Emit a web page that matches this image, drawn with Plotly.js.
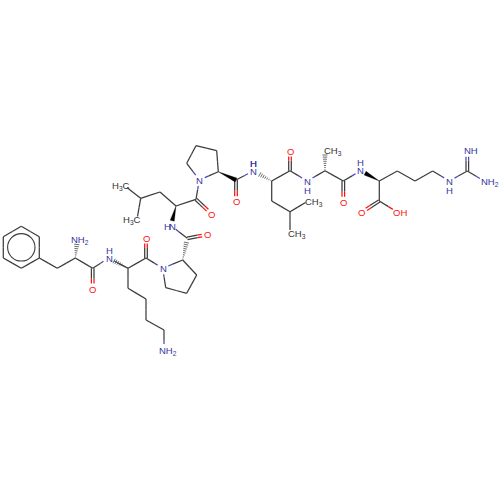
<!DOCTYPE html>
<html><head><meta charset="utf-8">
<script src="https://cdn.plot.ly/plotly-3.0.1.min.js"></script>
<style>html,body{margin:0;padding:0;background:#fff}</style></head>
<body><div id="chart" style="width:500px;height:500px"></div>
<script>
// atoms: name, x, y, element
const atomNames=["r1","r2","r3","r4","r5","r6","cb1","ca1","n1","c1","o1","n2","ca2","c2","o2","cb2","cg2","cd2","ce2","nz2",
"n3","ca3","cb3","cg3","cd3","c3","o3","n4","ca4","c4","o4","cb4","cg4","m41","m42",
"n5","cd5","cg5","cb5","ca5","c5","o5","n6","ca6","c6","o6","cb6","cg6","m61","m62",
"n7","ca7","m7","c7","o7","n8","ca8","c8","o8","oh8","cb8","cg8","cd8","ne8","cz8","nh8","nh28"];
const atomX=[21.3,39.3,39.3,21.3,3.3,3.3,57.3,75.3,77.5,92.7,92.7,108.5,128,146,146,128,146,146,164,164,
162.7,182.7,196.7,186.7,165.7,187.3,207.5,171,176,196,211.5,160,140.7,127,137.5,
199.3,186.7,196,216.7,218.3,236,236,253.3,271.7,290,290,271.7,290,305.5,290,
307.3,325,325,343.3,343.3,360.7,379.3,379.3,361.7,397.5,397.3,415,432.7,449.3,467.3,467.3,485];
const atomY=[226.3,236.7,258,268.3,258,236.7,268.3,258,238.5,268.3,289,258,268.3,258,238,288.3,299,320,330,350,
268.3,260,275,293.3,287.7,238.3,234.5,225.5,206,199.3,214,192,198.3,187.5,216.5,
180,163.3,145.7,150.7,171.7,180,201.7,171,181,170.7,151,201,211.7,202.5,230,
181,170.7,150.5,181,202.3,170.7,181,201,212.3,212.3,171,181,171,181,171,150.7,181.5];
const atomElement=["C","C","C","C","C","C","C","C","N","C","O","N","C","C","O","C","C","C","C","N",
"N","C","C","C","C","C","O","N","C","C","O","C","C","C","C",
"N","C","C","C","C","C","O","N","C","C","O","C","C","C","C",
"N","C","C","C","O","N","C","C","O","O","C","C","C","N","C","N","N"];
// bonds
const singleBonds=[["r1","r2"],["r2","r3"],["r3","r4"],["r4","r5"],["r5","r6"],["r6","r1"],["r3","cb1"],["cb1","ca1"],["ca1","c1"],["c1","n2"],
["n2","ca2"],["ca2","c2"],["c2","n3"],["ca2","cb2"],["cb2","cg2"],["cg2","cd2"],["cd2","ce2"],["ce2","nz2"],
["n3","ca3"],["ca3","cb3"],["cb3","cg3"],["cg3","cd3"],["cd3","n3"],["c3","n4"],["ca4","c4"],["c4","n5"],["ca4","cb4"],["cb4","cg4"],["cg4","m41"],["cg4","m42"],
["n5","cd5"],["cd5","cg5"],["cg5","cb5"],["cb5","ca5"],["ca5","n5"],["c5","n6"],["ca6","c6"],["ca6","cb6"],["cb6","cg6"],["cg6","m61"],["cg6","m62"],
["c6","n7"],["n7","ca7"],["ca7","c7"],["c7","n8"],["ca8","c8"],["c8","oh8"],["ca8","cb8"],["cb8","cg8"],["cg8","cd8"],["cd8","ne8"],["ne8","cz8"],["cz8","nh28"]];
const doubleBonds=[["c1","o1"],["c2","o2"],["c3","o3"],["c4","o4"],["c5","o5"],["c6","o6"],["c7","o7"],["c8","o8"],["cz8","nh8"]];
const hashBonds=[["ca1","n1"],["ca2","n2"],["ca3","c3"],["ca6","n6"],["ca7","m7"]];
const boldBonds=[["ca4","n4"],["ca5","c5"],["ca8","n8"]];
// labels: text, x, y, colour key
const labelText=["NH<sub>2</sub>","O","H","N","O","N","O","H","N","O","N","H","O","H","N","N","H","O","CH<sub>3</sub>","H","N","O","O","OH","N","H","NH","NH<sub>2</sub>","NH<sub>2</sub>",
"H<sub>3</sub>C","H<sub>3</sub>C","CH<sub>3</sub>","CH<sub>3</sub>"];
const labelX=[80,92.7,109.5,109.5,146,163,207.5,167,172,211.5,199.3,253.3,236,253.3,253.3,307.3,307.3,290,333,360.7,360.7,343.3,361.7,400,449.3,449.3,471,490,168,
120.5,132,314,296.5];
const labelY=[239.5,289,250,258,238,268.5,234.5,226.5,226.5,214,180,163.5,201.7,163.5,171,181,190,151,151,162.7,170.7,202.3,212.3,212.3,181,190,150.7,182,351,
186,219.5,202,233.5];
const labelColor=["N","O","N","N","O","N","O","N","N","O","N","N","O","N","N","N","N","O","C","N","N","O","O","O","N","N","N","N","N",
"C","C","C","C"];
const palette={C:"#333333",N:"#33339f",O:"#ff1010"};
const bondPalette={C:"#3c3c3c",N:"#4a4ab0",O:"#ff1010"};

const idx={};atomNames.forEach((n,i)=>idx[n]=i);
const P=n=>[atomX[idx[n]],atomY[idx[n]]];
const E=n=>atomElement[idx[n]];
const gap={C:0,N:6,O:5.5};
const segs={C:{x:[],y:[]},N:{x:[],y:[]},O:{x:[],y:[]}};
function addSeg(col,a,b){segs[col].x.push(a[0],b[0],null);segs[col].y.push(a[1],b[1],null);}
function bond(a,b,ea,eb,off){
  const dx=b[0]-a[0],dy=b[1]-a[1],L=Math.hypot(dx,dy),ux=dx/L,uy=dy/L;
  const nx=-uy*(off||0),ny=ux*(off||0);
  const s=[a[0]+ux*gap[ea]+nx,a[1]+uy*gap[ea]+ny],e=[b[0]-ux*gap[eb]+nx,b[1]-uy*gap[eb]+ny];
  const m=[(a[0]+b[0])/2+nx,(a[1]+b[1])/2+ny];
  addSeg(ea,s,m);addSeg(eb,m,e);
}
singleBonds.forEach(([p,q])=>bond(P(p),P(q),E(p),E(q),0));
doubleBonds.forEach(([p,q])=>{bond(P(p),P(q),E(p),E(q),1.3);bond(P(p),P(q),E(p),E(q),-1.3);});
const traces=Object.keys(segs).map(k=>({type:"scatter",mode:"lines",x:segs[k].x,y:segs[k].y,
  line:{color:bondPalette[k],width:1.25},hoverinfo:"skip",showlegend:false}));
// wedges
boldBonds.forEach(([p,q])=>{
  const a=P(p),b=P(q),dx=b[0]-a[0],dy=b[1]-a[1],L=Math.hypot(dx,dy),ux=dx/L,uy=dy/L,w=2.1;
  const t=gap[E(q)]>0?(L-gap[E(q)]+1)/L:1;
  const ex=a[0]+dx*t,ey=a[1]+dy*t;
  traces.push({type:"scatter",mode:"lines",fill:"toself",fillcolor:"#000",line:{color:"#000",width:0.3},
    x:[a[0],ex-uy*w,ex+uy*w,a[0]],y:[a[1],ey+ux*w,ey-ux*w,a[1]],hoverinfo:"skip",showlegend:false});
});
// hashed
const hx=[],hy=[];
hashBonds.forEach(([p,q])=>{
  const a=P(p),b=P(q),dx=b[0]-a[0],dy=b[1]-a[1],L=Math.hypot(dx,dy),ux=dx/L,uy=dy/L;
  const end=L-Math.max(gap[E(q)],4);
  for(let d=1;d<end;d+=2.1){
    const w=0.3+2.3*d/end,cx=a[0]+ux*d,cy=a[1]+uy*d;
    hx.push(cx-uy*w,cx+uy*w,null);hy.push(cy+ux*w,cy-ux*w,null);
  }
});
traces.push({type:"scatter",mode:"lines",x:hx,y:hy,line:{color:"#444",width:0.8},hoverinfo:"skip",showlegend:false});

const ringNames=["r1","r2","r3","r4","r5","r6"];
const cx=ringNames.reduce((s,n)=>s+P(n)[0],0)/6,cy=ringNames.reduce((s,n)=>s+P(n)[1],0)/6,R=13.7;
const annotations=labelText.map((t,i)=>({x:labelX[i],y:labelY[i],xref:"x",yref:"y",text:t,showarrow:false,
  xanchor:"center",yanchor:"middle",font:{family:"Liberation Sans, Arial, sans-serif",size:9.5,color:palette[labelColor[i]]},borderpad:0}));
Plotly.newPlot("chart",traces,{
  width:500,height:500,margin:{l:0,r:0,t:0,b:0},paper_bgcolor:"#fff",plot_bgcolor:"#fff",showlegend:false,
  xaxis:{range:[0,500],visible:false,fixedrange:true},
  yaxis:{range:[500,0],visible:false,fixedrange:true},
  shapes:[{type:"circle",xref:"x",yref:"y",x0:cx-R,x1:cx+R,y0:cy-R,y1:cy+R,line:{color:"#3c3c3c",width:1.1}}],
  annotations
},{staticPlot:true,displayModeBar:false});
</script></body></html>
